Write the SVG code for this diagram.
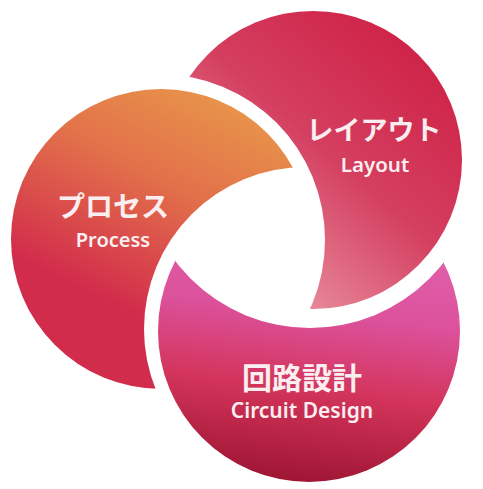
<svg xmlns="http://www.w3.org/2000/svg" width="483" height="489" viewBox="0 0 483 489">
  <defs>
    <linearGradient id="gProcess" x1="0.7" y1="0" x2="0.35" y2="0.72">
      <stop offset="0" stop-color="#e8964a"/>
      <stop offset="0.45" stop-color="#e2704a"/>
      <stop offset="1" stop-color="#d22c4c"/>
    </linearGradient>
    <linearGradient id="gLayout" x1="0.8" y1="0.1" x2="0.15" y2="0.85">
      <stop offset="0" stop-color="#cf2449"/>
      <stop offset="0.45" stop-color="#d43f60"/>
      <stop offset="1" stop-color="#eb9aa7"/>
    </linearGradient>
    <linearGradient id="gCircuit" x1="0.62" y1="0" x2="0.5" y2="1">
      <stop offset="0" stop-color="#e46cb8"/>
      <stop offset="0.45" stop-color="#dc519b"/>
      <stop offset="0.7" stop-color="#d3345a"/>
      <stop offset="1" stop-color="#a01634"/>
    </linearGradient>
    <mask id="mProcess" maskUnits="userSpaceOnUse" x="0" y="0" width="483" height="489">
      <rect x="0" y="0" width="483" height="489" fill="#fff"/>
      <circle cx="306" cy="329" r="162" fill="#000"/>
    </mask>
    <mask id="mLayout" maskUnits="userSpaceOnUse" x="0" y="0" width="483" height="489">
      <rect x="0" y="0" width="483" height="489" fill="#fff"/>
      <circle cx="159" cy="240" r="166" fill="#000"/>
    </mask>
    <mask id="mCircuit" maskUnits="userSpaceOnUse" x="0" y="0" width="483" height="489">
      <rect x="0" y="0" width="483" height="489" fill="#fff"/>
      <circle cx="310" cy="159" r="169" fill="#000"/>
    </mask>
  </defs>
  <style>
    .jp { font-family: "Noto Sans CJK JP", "Noto Sans", sans-serif; font-weight: 700; fill: #fbeef0; text-anchor: middle; }
    .en { font-family: "Noto Sans", "Open Sans", sans-serif; font-weight: 600; fill: #fbeef0; text-anchor: middle; }
  </style>
  <rect x="0" y="0" width="483" height="489" fill="#ffffff"/>
  <g id="process">
    <circle cx="161" cy="239" r="150" fill="url(#gProcess)" mask="url(#mProcess)"/>
    <text class="jp" x="113" y="217" font-size="28">プロセス</text>
    <text class="en" x="113" y="247" font-size="20">Process</text>
  </g>
  <g id="layout">
    <circle cx="313" cy="160" r="149" fill="url(#gLayout)" mask="url(#mLayout)"/>
    <text class="jp" x="374" y="140" font-size="27" font-weight="500">レイアウト</text>
    <text class="en" x="375" y="172" font-size="20.5">Layout</text>
  </g>
  <g id="circuit">
    <circle cx="309" cy="331" r="151" fill="url(#gCircuit)" mask="url(#mCircuit)"/>
    <text class="jp" x="302" y="389" font-size="30">回路設計</text>
    <text class="en" x="302" y="418" font-size="21">Circuit Design</text>
  </g>
  <g id="connectors"/>
</svg>
